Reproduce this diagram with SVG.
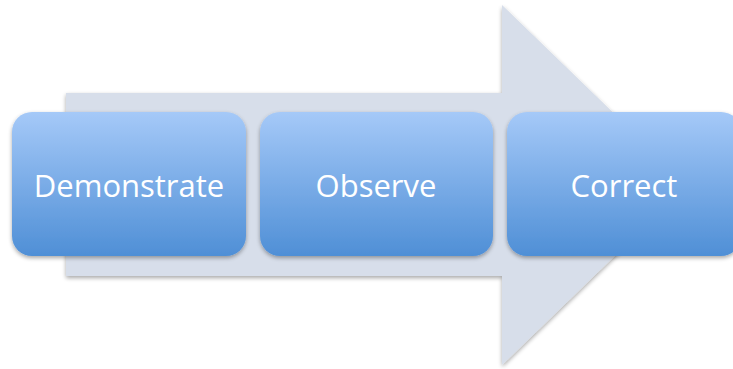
<svg xmlns="http://www.w3.org/2000/svg" width="733" height="369" viewBox="0 0 733 369">
<defs>
<linearGradient id="g" x1="0" y1="0" x2="0" y2="1">
<stop offset="0" stop-color="#a5c9f8"/>
<stop offset="1" stop-color="#4f8fd6"/>
</linearGradient>
<filter id="sh" x="-10%" y="-10%" width="120%" height="130%">
<feGaussianBlur in="SourceAlpha" stdDeviation="2"/>
<feOffset dy="2" result="b"/>
<feComponentTransfer><feFuncA type="linear" slope="0.35"/></feComponentTransfer>
<feMerge><feMergeNode/><feMergeNode in="SourceGraphic"/></feMerge>
</filter>
</defs>
<style>
.box{fill:url(#g);filter:url(#sh)}
.lbl{font-family:"Open Sans","Noto Sans",sans-serif;font-size:31px;fill:#ffffff;text-anchor:middle}
</style>
<rect width="733" height="369" fill="#ffffff"/>
<g id="arrow">
<polygon points="66,93 502,93 502,5 688,185 502,365 502,276 66,276" fill="#d7deea" filter="url(#sh)"/>
</g>
<g id="connectors"></g>
<g id="demonstrate">
<rect class="box" x="12" y="112" width="234" height="144" rx="20"/>
<text class="lbl" x="129" y="197">Demonstrate</text>
</g>
<g id="observe">
<rect class="box" x="260" y="112" width="233" height="144" rx="20"/>
<text class="lbl" x="376" y="197">Observe</text>
</g>
<g id="correct">
<rect class="box" x="507" y="112" width="234" height="144" rx="20"/>
<text class="lbl" x="624" y="197">Correct</text>
</g>
</svg>
